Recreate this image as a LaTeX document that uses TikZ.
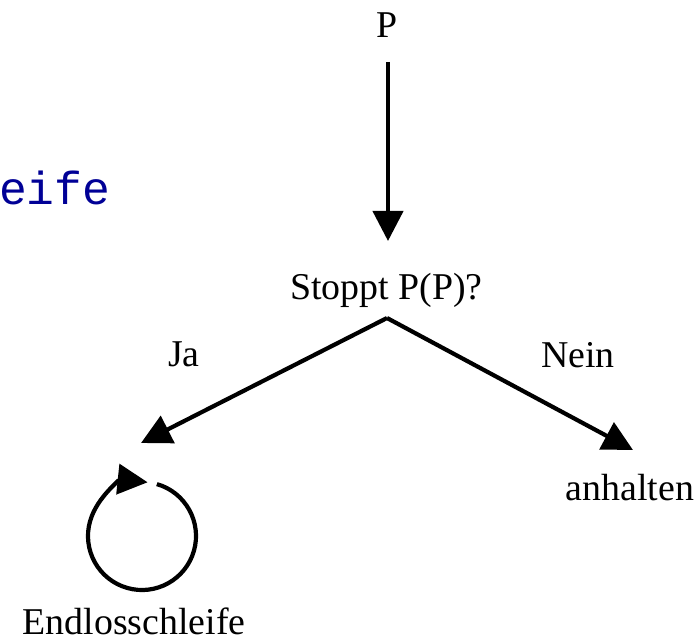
\documentclass[tikz,border=0pt]{standalone}
\usepackage{fontspec}
\setmainfont{Liberation Serif}
\newfontfamily\codefont{Liberation Mono}
\usetikzlibrary{arrows.meta}
\definecolor{codeblue}{RGB}{0,0,150}
\tikzset{
  lbl/.style={inner sep=0pt, anchor=base, font=\fontsize{38}{40}\selectfont},
  flow/.style={line width=4.2bp, -{Triangle[length=30bp,width=30bp]}},
}
\begin{document}
\begin{tikzpicture}[x=1bp,y=-1bp]
  \useasboundingbox (0,0) rectangle (699,641);
  % code fragment at the left edge
  \node[inner sep=0pt, anchor=base west, text=codeblue,
        font=\codefont\fontsize{46.5}{48}\selectfont] (code) at (-1,205) {eife};
  % labels
  \node[lbl] (p) at (387,38) {P};
  \node[lbl] (q) at (386.5,299) {Stoppt P(P)?};
  \node[lbl] (ja) at (184,366) {Ja};
  \node[lbl] (nein) at (578,367) {Nein};
  \node[lbl] (halt) at (630,500) {anhalten};
  \node[lbl] (loop) at (134,634) {Endlosschleife};
  % connectors
  \coordinate (ptop) at (388,62);
  \coordinate (pend) at (388,241);
  \coordinate (apex) at (387,318);
  \coordinate (jatip) at (141,443);
  \coordinate (neintip) at (633,450);
  \draw[flow] (ptop) -- (pend);
  \draw[flow] (apex) -- (jatip);
  \draw[flow] (apex) -- (neintip);
  % endless loop circle
  \coordinate (lc) at (142,536);
  \draw[flow] ([shift={(74:54 and -54)}]lc) arc[start angle=-74, end angle=276, radius=54];
\end{tikzpicture}
\end{document}
